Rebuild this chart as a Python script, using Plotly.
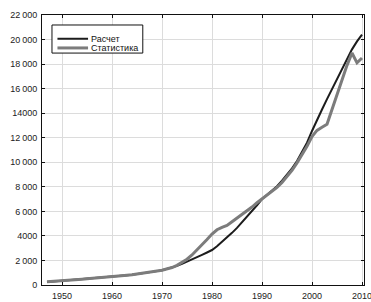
import plotly.graph_objects as go

years = list(range(1947, 2011))

calc = [250, 280, 310, 340, 370, 400, 430, 460, 490, 520,
        555, 590, 625, 660, 700, 740, 785, 830, 880, 935,
        995, 1060, 1130, 1200, 1300, 1420, 1560, 1720, 1890, 2070,
        2260, 2460, 2650, 2850, 3150, 3500, 3850, 4250, 4650, 5100,
        5550, 6000, 6500, 7000, 7350, 7700, 8050, 8500, 9000, 9500,
        10100, 10800, 11600, 12550, 13500, 14300, 15150, 15950, 16750, 17600,
        18400, 19200, 19850, 20400]

stat = [270, 290, 320, 350, 380, 410, 440, 470, 500, 530,
        565, 600, 635, 670, 710, 750, 795, 840, 890, 945,
        1005, 1070, 1140, 1200, 1300, 1420, 1600, 1830, 2100, 2450,
        2850, 3250, 3700, 4150, 4500, 4700, 4850, 5150, 5450, 5700,
        6000, 6350, 6700, 7000, 7300, 7650, 7950, 8350, 8850, 9350,
        9950, 10600, 11300, 12100, 12600, 12850, 13100, 14300, 15500, 16700,
        17900, 18900, 18100, 18500]

series_names = ["Расчет", "Статистика"]
series_colors = ["#1c1c1c", "#7c7c7c"]

y_ticks = [0, 2000, 4000, 6000, 8000, 10000, 12000, 14000, 16000, 18000, 20000, 22000]
y_labels = ["0", "2\u2009000", "4000", "6\u2009000", "8\u2009000", "10\u2009000", "12\u2009000",
            "14000", "16\u2009000", "18\u2009000", "20\u2009000", "22\u2009000"]
x_ticks = [1950, 1960, 1970, 1980, 1990, 2000, 2010]

FONT = "Liberation Sans, Arial, sans-serif"

fig = go.Figure()
fig.add_trace(go.Scatter(x=years, y=calc, mode="lines", name=series_names[0],
                         line=dict(color=series_colors[0], width=2), showlegend=False))
fig.add_trace(go.Scatter(x=years, y=stat, mode="lines", name=series_names[1],
                         line=dict(color=series_colors[1], width=3), showlegend=False))

axis_common = dict(showline=True, linecolor="#111", linewidth=1, mirror="ticks",
                   ticks="inside", ticklen=3, tickcolor="#111", automargin=False,
                   showgrid=True, gridcolor="#dcdcdc", gridwidth=1, zeroline=False,
                   ticklabeloverflow="allow",
                   tickfont=dict(family=FONT, size=9, color="#222"))

fig.update_xaxes(range=[1946, 2010.4], tickvals=x_ticks, ticklabelstandoff=2, **axis_common)
fig.update_yaxes(range=[0, 22000], tickvals=y_ticks, ticktext=y_labels, ticklabelstandoff=2,
                 **axis_common)

# compact framed legend (paper coordinates)
fig.add_shape(type="rect", xref="paper", yref="paper", x0=0.031, x1=0.313, y0=0.859, y1=0.963,
              line=dict(color="#111", width=1), fillcolor="white", layer="above")
legend_rows = [0.912, 0.878]
for name, color, w, yr in zip(series_names, series_colors, [2, 3], legend_rows):
    fig.add_shape(type="line", xref="paper", yref="paper", x0=0.048, x1=0.143, y0=yr, y1=yr,
                  line=dict(color=color, width=w), layer="above")
    fig.add_annotation(x=0.147, y=yr, xref="paper", yref="paper", text=name, showarrow=False,
                       xanchor="left", yanchor="middle",
                       font=dict(family=FONT, size=9, color="#111"))

fig.update_layout(
    width=371, height=302,
    margin=dict(l=42, r=7, t=15, b=17),
    plot_bgcolor="white", paper_bgcolor="white",
    showlegend=False,
)

fig.write_html("out.html", config={"displayModeBar": False},
               post_script="document.body.style.margin='0';document.body.style.overflow='hidden';")
